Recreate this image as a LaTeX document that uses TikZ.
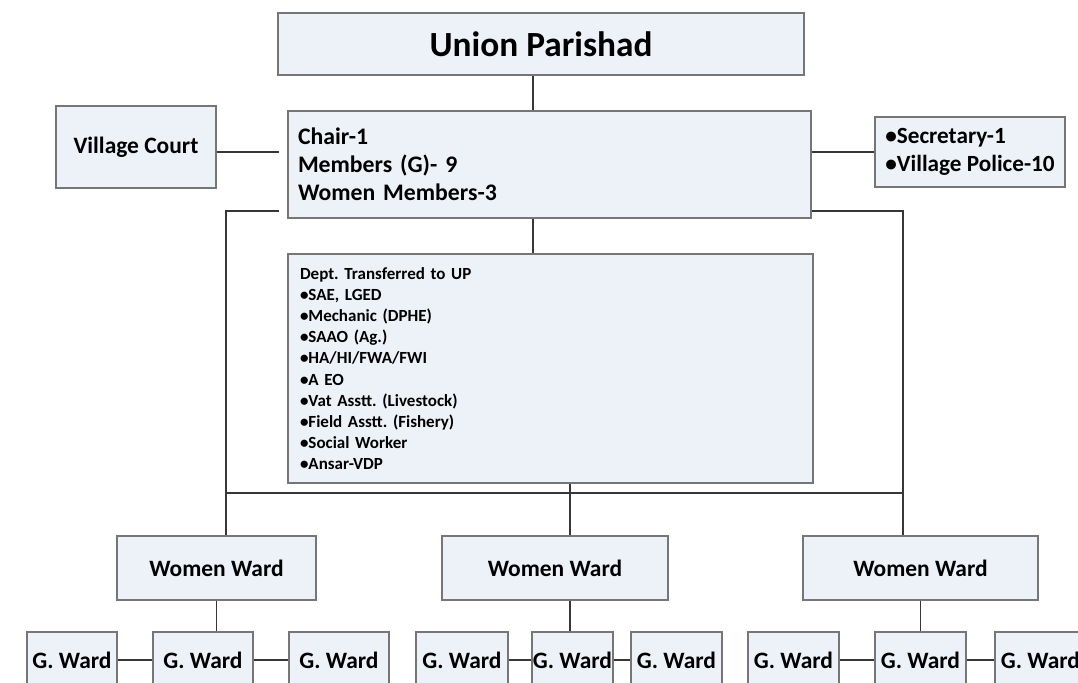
\documentclass[tikz,border=0pt]{standalone}
\usepackage{fontspec}
\setmainfont{Carlito}
\usepackage{xcolor}
\definecolor{boxfill}{RGB}{237,241,248}
\definecolor{boxline}{RGB}{118,118,118}
\definecolor{linkgray}{RGB}{55,55,55}
\frenchspacing

\begin{document}
\begin{tikzpicture}[x=0.75pt,y=-0.75pt,
  unit/.style={fill=boxfill, draw=boxline, line width=1.1pt, rectangle, inner sep=0pt, font=\bfseries\fontsize{17.6}{21}\selectfont},
  gward/.style={unit, minimum height=42pt},
  link/.style={draw=linkgray, line width=1pt}]
\path[use as bounding box, clip] (0,0) rectangle (1078,682);
\fill[white] (0,0) rectangle (1078,682);

% top of the chart
\node (parishad) [unit, minimum width=394.5pt, minimum height=46.5pt, font=\bfseries\fontsize{26.5}{30}\selectfont] at (541,44) {Union Parishad};

\node (council) [unit, minimum height=80.25pt, inner xsep=7.5pt, text width=377.25pt, align=left, font=\bfseries\fontsize{17.8}{21}\selectfont] at (549.5,164.5) {
Chair-1\\
Members (G)- 9\\
Women Members-3
};

\node (court) [unit, minimum width=120pt, minimum height=61.5pt] at (136,147) {Village Court};

\node (secretary) [unit, minimum width=142.5pt, minimum height=52.5pt, align=left, font=\bfseries\fontsize{17.4}{21}\selectfont] at (970,152) {
•Secretary-1\\
•Village Police-10
};

\node (dept) [unit, minimum height=171.75pt, inner xsep=9pt, text width=375.75pt, align=left, font=\bfseries\fontsize{12.75}{15.9}\selectfont] at (550.5,368.5) {
Dept. Transferred to UP\\
•SAE, LGED\\
•Mechanic (DPHE)\\
•SAAO (Ag.)\\
•HA/HI/FWA/FWI\\
•A EO\\
•Vat Asstt. (Livestock)\\
•Field Asstt. (Fishery)\\
•Social Worker\\
•Ansar-VDP
};

% women wards
\node (ward1) [unit, minimum width=149.25pt, minimum height=48pt] at (216.5,568) {Women Ward};
\node (ward2) [unit, minimum width=169.5pt, minimum height=48pt] at (555,568) {Women Ward};
\node (ward3) [unit, minimum width=176.25pt, minimum height=48pt] at (920.5,568) {Women Ward};

% general wards
\foreach \name/\cx/\w in {g11/72/67.5pt, g12/203/75pt, g13/339/75pt,
                          g21/462/69pt, g22/572.5/60.75pt, g23/676.5/68.25pt,
                          g31/793.5/68.25pt, g32/920.5/68.25pt, g33/1040.5/68.25pt}
  \node (\name) [gward, minimum width=\w] at (\cx,660) {G. Ward};

\coordinate (spine) at (533,0);
\coordinate (drop) at (570,0);
\coordinate (branch) at (0,211);
\coordinate (busL) at (226,493);
\coordinate (busR) at (903,493);

\draw[link] (parishad.south -| spine) -- (council.north -| spine);
\draw[link] (council.south -| spine) -- (dept.north -| spine);
\draw[link, shorten >=6pt] (court.east |- secretary.west) -- (council.west |- secretary.west);
\draw[link] (council.east |- secretary.west) -- (secretary.west);
\draw[link, shorten <=6pt] (council.west |- branch) -| (busL |- ward1.north);
\draw[link] (council.east |- branch) -| (busR |- ward3.north);
\draw[link] (busL) -- (busR);
\draw[link] (dept.south -| drop) -- (ward2.north -| drop);

\draw[link] (ward1.south) -- (ward1.south |- g12.north);
\draw[link] (ward2.south -| drop) -- (g22.north -| drop);
\draw[link] (ward3.south) -- (ward3.south |- g32.north);
\draw[link] (g11) -- (g12) -- (g13);
\draw[link] (g21) -- (g22) -- (g23);
\draw[link] (g31) -- (g32) -- (g33);
\end{tikzpicture}
\end{document}
